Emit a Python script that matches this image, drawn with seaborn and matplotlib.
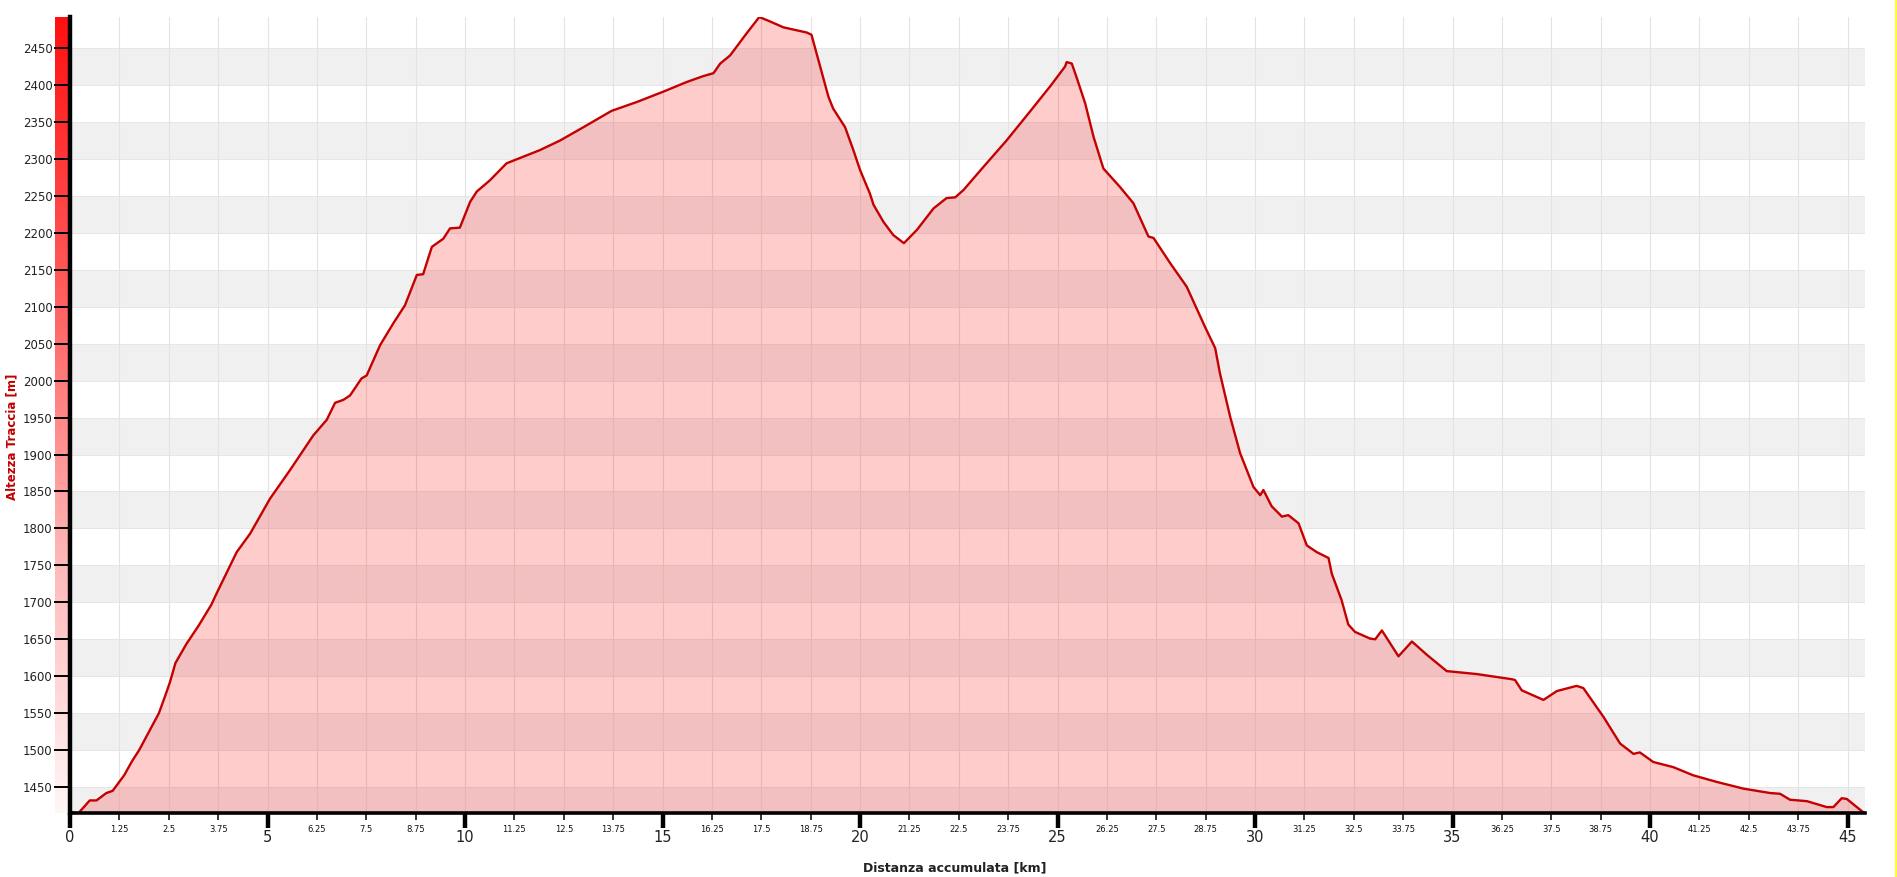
"""
Elevation profile of a track: altitude (m) versus accumulated distance (km).
"""

import numpy as np
import matplotlib

matplotlib.use("Agg")
import matplotlib.pyplot as plt
from matplotlib.colors import LinearSegmentedColormap
from matplotlib.lines import Line2D
import seaborn as sns

# Figure settings
FIG_DPI = 100
LINE_COLOR = "#c40000"
LABEL_COLOR = "#c00000"

# Track profile
distance_km = [
    0.0, 0.2, 0.5, 0.67, 0.92, 1.08, 1.37, 1.58, 1.75, 2.0, 2.25, 2.42, 2.53,
    2.67, 2.95, 3.25, 3.58, 3.71, 4.22, 4.56, 5.06, 5.57, 6.16, 6.5, 6.71,
    6.92, 7.09, 7.38, 7.51, 7.85, 8.19, 8.48, 8.78, 8.94, 9.16, 9.45, 9.62,
    9.87, 10.13, 10.3, 10.63, 11.05, 11.9, 12.41, 13.0, 13.71, 14.35, 15.02,
    15.61, 16.03, 16.29, 16.46, 16.71, 17.13, 17.45, 17.72, 18.06, 18.4,
    18.65, 18.77, 18.99, 19.2, 19.32, 19.62, 19.83, 20.0, 20.25, 20.34,
    20.59, 20.84, 21.11, 21.44, 21.86, 22.19, 22.41, 22.62, 23.12, 23.71,
    24.3, 24.81, 25.19, 25.23, 25.36, 25.49, 25.7, 25.91, 26.16, 26.58,
    26.92, 27.3, 27.43, 27.85, 28.27, 28.73, 28.99, 29.11, 29.37, 29.62,
    29.96, 30.13, 30.21, 30.42, 30.68, 30.84, 31.1, 31.31, 31.56, 31.86,
    31.94, 32.19, 32.36, 32.53, 32.91, 33.04, 33.21, 33.63, 33.97, 34.35,
    34.85, 35.61, 36.5, 36.58, 36.75, 37.3, 37.64, 38.14, 38.31, 38.82,
    39.24, 39.58, 39.74, 40.08, 40.59, 41.09, 41.69, 42.36, 43.04, 43.29,
    43.54, 43.97, 44.47, 44.64, 44.85, 44.98, 45.44,
]
elevation_m = [
    1417, 1414, 1432, 1432, 1442, 1445, 1466, 1486, 1500, 1525, 1550, 1575,
    1592, 1618, 1644, 1668, 1697, 1712, 1768, 1793, 1840, 1879, 1926, 1947,
    1970, 1974, 1980, 2003, 2007, 2048, 2078, 2102, 2143, 2144, 2181, 2192,
    2206, 2207, 2242, 2256, 2271, 2294, 2312, 2325, 2343, 2365, 2377, 2391,
    2404, 2412, 2416, 2429, 2440, 2470, 2492, 2486, 2478, 2474, 2471, 2468,
    2425, 2384, 2368, 2343, 2312, 2285, 2253, 2238, 2215, 2197, 2186, 2204,
    2233, 2247, 2248, 2258, 2289, 2325, 2364, 2398, 2425, 2431, 2429, 2409,
    2375, 2330, 2287, 2262, 2240, 2195, 2193, 2159, 2127, 2073, 2044, 2010,
    1951, 1902, 1856, 1845, 1852, 1830, 1816, 1818, 1807, 1777, 1768, 1760,
    1739, 1703, 1670, 1660, 1651, 1650, 1662, 1627, 1647, 1629, 1607, 1603,
    1596, 1595, 1581, 1568, 1580, 1587, 1584, 1545, 1509, 1495, 1497, 1484,
    1477, 1466, 1457, 1448, 1442, 1441, 1433, 1431, 1423, 1423, 1435, 1434,
    1414,
]

# Axis ticks
y_ticks = list(range(1450, 2451, 50))
x_major_ticks = list(range(0, 46, 5))
x_minor_ticks = [v * 1.25 for v in range(0, 37) if (v * 1.25) % 5 != 0]

X_MAX = 45.44
Y_MIN, Y_MAX = 1415, 2492


def main():
    sns.set_style("white")
    plt.rcParams["font.family"] = ["DejaVu Sans"]

    fig = plt.figure(figsize=(18.97, 8.77), dpi=FIG_DPI)

    # Colour scale bar on the left of the y axis (drawn under the main axes)
    cax = fig.add_axes([55 / 1897, 1 - 813 / 877, 13 / 1897, 796 / 877])
    cmap = LinearSegmentedColormap.from_list(
        "alt", ["#fff6f6", "#ffb4b4", "#ff5a5a", "#ff1010"]
    )
    grad = np.linspace(0, 1, 256).reshape(-1, 1)
    cax.imshow(grad, aspect="auto", cmap=cmap, origin="lower")
    cax.set_axis_off()
    cax.set_zorder(0)

    ax = fig.add_axes([70 / 1897, 1 - 813 / 877, 1795 / 1897, 796 / 877])
    ax.set_zorder(1)

    # Alternating horizontal bands
    for lo in range(1400, 2500, 100):
        ax.axhspan(lo, lo + 50, color="#f0f0f0", lw=0, zorder=0)
    for y in y_ticks:
        ax.axhline(y, color="#e6e6e6", lw=0.7, zorder=0.5)
    for x in sorted(x_minor_ticks + x_major_ticks[1:]):
        ax.axvline(x, color="#e3e3e3", lw=0.8, zorder=0.6)

    # Profile
    ax.fill_between(distance_km, elevation_m, Y_MIN - 10, color="red",
                    alpha=0.2, lw=0, zorder=1)
    sns.lineplot(x=distance_km, y=elevation_m, ax=ax, color=LINE_COLOR,
                 lw=1.7, zorder=2, sort=False, estimator=None)

    ax.set_xlim(0, X_MAX)
    ax.set_ylim(Y_MIN, Y_MAX)

    # Ticks
    ax.tick_params(bottom=True, left=True, which="both")
    ax.set_yticks(y_ticks)
    ax.set_yticklabels([str(v) for v in y_ticks])
    ax.tick_params(axis="y", which="major", length=11.5, width=1.4,
                   color="black", labelsize=8.5, pad=1, labelcolor="#222222")

    ax.set_xticks(x_major_ticks)
    ax.set_xticklabels([str(v) for v in x_major_ticks])
    ax.set_xticks(x_minor_ticks, minor=True)
    ax.set_xticklabels([f"{v:g}" for v in x_minor_ticks], minor=True)
    ax.tick_params(axis="x", which="major", length=10.5, width=3.2,
                   color="black", labelsize=10.5, pad=2, labelcolor="#222222")
    ax.tick_params(axis="x", which="minor", length=5, width=1.1,
                   color="black", labelsize=6, pad=4, labelcolor="#111111")
    ax.set_xlabel("")
    ax.set_ylabel("")

    for side in ["top", "right"]:
        ax.spines[side].set_visible(False)
    ax.spines["left"].set_linewidth(3.2)
    ax.spines["bottom"].set_linewidth(2.6)
    ax.spines["left"].set_color("black")
    ax.spines["bottom"].set_color("black")
    ax.spines["left"].set_zorder(5)
    ax.spines["bottom"].set_zorder(5)

    # Axis titles
    fig.text(12 / 1897, 1 - 437 / 877, "Altezza Traccia [m]", rotation=90,
             color=LABEL_COLOR, fontsize=8.5, fontweight="bold",
             ha="center", va="center")
    fig.text(955 / 1897, 1 - 868 / 877, "Distanza accumulata [km]",
             color="#222222", fontsize=9, fontweight="bold",
             ha="center", va="center")

    # Yellow frame edge on the right
    fig.add_artist(Line2D([1895.5 / 1897] * 2, [0, 1], color="#ffff00",
                          lw=1.2, transform=fig.transFigure))

    fig.savefig("out.png", dpi=FIG_DPI)
    plt.close(fig)


if __name__ == "__main__":
    main()
